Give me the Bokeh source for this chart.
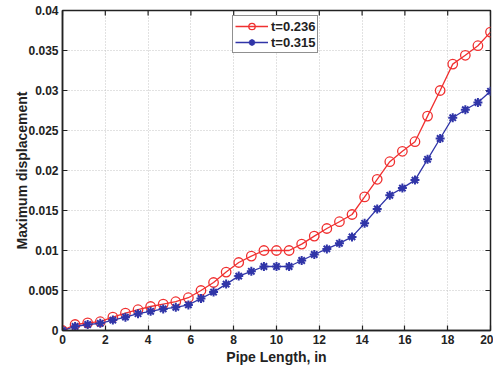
import numpy as np
from bokeh.plotting import figure
from bokeh.models import FixedTicker, Range1d
from bokeh.embed import file_html
from bokeh.resources import INLINE

# Data (35 equally spaced positions along the pipe, 0..20 in)
pipe_length = np.linspace(0, 20, 35)
disp_t0236 = [0.0, 0.00075, 0.00096, 0.0011, 0.00167, 0.00217, 0.0026, 0.0030,
              0.0033, 0.0036, 0.0041, 0.0050, 0.0060, 0.0073, 0.0085, 0.0093,
              0.0100, 0.0100, 0.0100, 0.0108, 0.0118, 0.01275, 0.0136, 0.0145,
              0.0167, 0.0189, 0.0211, 0.0224, 0.0236, 0.0268, 0.0300, 0.0333,
              0.0344, 0.0356, 0.0373]
disp_t0315 = [0.0, 0.0005, 0.00075, 0.0009, 0.0013, 0.00167, 0.0021, 0.0024,
              0.0027, 0.0029, 0.0032, 0.0040, 0.0048, 0.0058, 0.0068, 0.0074,
              0.0080, 0.0080, 0.0080, 0.00875, 0.0095, 0.0102, 0.0109, 0.0117,
              0.0134, 0.0152, 0.0169, 0.0178, 0.0188, 0.0214, 0.0240, 0.0266,
              0.0276, 0.0285, 0.0299]
x_ticks = [0, 2, 4, 6, 8, 10, 12, 14, 16, 18, 20]
y_ticks = [0, 0.005, 0.01, 0.015, 0.02, 0.025, 0.03, 0.035, 0.04]
y_tick_labels = ["0", "0.005", "0.01", "0.015", "0.02", "0.025", "0.03", "0.035", "0.04"]
x_min, x_max = 0, 20
y_min, y_max = 0, 0.04

RED = "#f03030"
BLUE = "#3035a8"
INK = "#222222"
FONT = "Liberation Sans"

p = figure(width=493, height=370, output_backend="svg", toolbar_location=None,
           x_range=Range1d(x_min, x_max), y_range=Range1d(y_min, y_max),
           min_border_left=62, min_border_right=3, min_border_top=10, min_border_bottom=40)
p.background_fill_color = "white"
p.border_fill_color = "white"
p.outline_line_color = INK
p.outline_line_width = 1.5

# grid
p.xgrid.ticker = FixedTicker(ticks=x_ticks)
p.ygrid.ticker = FixedTicker(ticks=y_ticks)
for g in (p.xgrid[0], p.ygrid[0]):
    g.grid_line_color = "#c4c4c4"
    g.grid_line_dash = "1 2"
    g.grid_line_width = 1

# inward ticks on the top and right edges of the box (half of each dash is clipped)
p.scatter(x_ticks, [y_max] * len(x_ticks), marker="dash", angle=np.pi / 2, size=10,
          line_color=INK, line_width=1.2)
p.scatter([x_max] * len(y_ticks), y_ticks, marker="dash", size=10,
          line_color=INK, line_width=1.2)

p.line(pipe_length, disp_t0236, color=RED, line_width=1.3, legend_label="t=0.236")
p.scatter(pipe_length, disp_t0236, marker="circle", size=9.5, fill_color=None,
          line_color=RED, line_width=1.3, legend_label="t=0.236")
p.line(pipe_length, disp_t0315, color=BLUE, line_width=1.3, legend_label="t=0.315")
p.scatter(pipe_length, disp_t0315, marker="asterisk", size=9,
          line_color=BLUE, line_width=2.0, legend_label="t=0.315")

for ax in (p.xaxis[0], p.yaxis[0]):
    ax.major_tick_in = 5
    ax.major_tick_out = 0
    ax.minor_tick_in = 0
    ax.minor_tick_out = 0
    ax.axis_line_color = INK
    ax.axis_line_width = 1.5
    ax.major_tick_line_color = INK
    ax.major_tick_line_width = 1.2
    ax.major_label_text_font = FONT
    ax.major_label_text_font_style = "bold"
    ax.major_label_text_font_size = "12px"
    ax.major_label_text_color = INK
    ax.axis_label_text_font = FONT
    ax.axis_label_text_font_style = "bold"
    ax.axis_label_text_font_size = "14px"
    ax.axis_label_text_color = INK

p.xaxis[0].ticker = FixedTicker(ticks=x_ticks)
p.yaxis[0].ticker = FixedTicker(ticks=y_ticks)
p.yaxis[0].major_label_overrides = {t: s for t, s in zip(y_ticks, y_tick_labels)}
p.xaxis[0].axis_label = "Pipe Length, in"
p.yaxis[0].axis_label = "Maximum displacement"
p.xaxis[0].major_label_standoff = 4
p.yaxis[0].major_label_standoff = 4
p.xaxis[0].axis_label_standoff = 2
p.yaxis[0].axis_label_standoff = -5

lg = p.legend[0]
lg.location = (170, 277)
lg.border_line_color = INK
lg.border_line_width = 1.5
lg.background_fill_color = "white"
lg.background_fill_alpha = 1
lg.label_text_font = FONT
lg.label_text_font_style = "bold"
lg.label_text_font_size = "13px"
lg.label_text_color = INK
lg.glyph_width = 33
lg.glyph_height = 16
lg.label_height = 16
lg.label_standoff = 3
lg.padding = 2
lg.spacing = 0
lg.margin = 0

open("out.html", "w").write(file_html(p, INLINE))
